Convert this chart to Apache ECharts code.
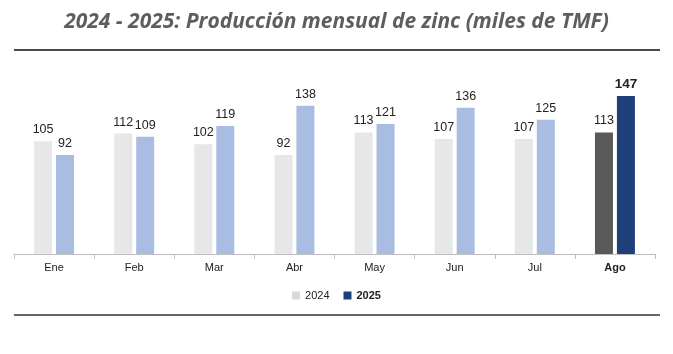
<!DOCTYPE html>
<html lang="es">
<head>
<meta charset="UTF-8">
<title>Producción mensual de zinc</title>
<script src="https://cdn.jsdelivr.net/npm/echarts@6/dist/echarts.min.js"></script>
<style>
  html, body { margin: 0; padding: 0; background: #fff; }
  #chart { width: 673px; height: 354px; }
</style>
</head>
<body>
<div id="chart"></div>
<script>
// datos
var meses = ['Ene', 'Feb', 'Mar', 'Abr', 'May', 'Jun', 'Jul', 'Ago'];
var prod2024 = [105, 112, 102, 92, 113, 107, 107, 113];
var prod2025 = [92, 109, 119, 138, 121, 136, 125, 147];
var ultimo = meses.length - 1; // mes destacado

var fuente = '"Liberation Sans", Arial, sans-serif';

function armar(valores, claro, oscuro, negrita) {
    return valores.map(function (v, i) {
        if (i === ultimo) {
            return { value: v, itemStyle: { color: oscuro }, label: { fontWeight: negrita ? 'bold' : 'normal', fontSize: negrita ? 13.5 : 12.5 } };
        }
        return { value: v, itemStyle: { color: claro } };
    });
}

var chart = echarts.init(document.getElementById('chart'));
chart.setOption({
    animation: false,
    title: {
        text: '2024 - 2025: Producción mensual de zinc (miles de TMF)',
        left: 'center',
        top: 7,
        textStyle: {
            fontFamily: '"Open Sans", sans-serif',
            fontStyle: 'italic',
            fontWeight: 'bold',
            fontSize: 21,
            color: '#5e5e5e'
        }
    },
    graphic: [
        { type: 'line', shape: { x1: 14, y1: 50, x2: 660, y2: 50 }, style: { stroke: '#4a4a4a', lineWidth: 2 } },
        { type: 'line', shape: { x1: 14, y1: 315, x2: 660, y2: 315 }, style: { stroke: '#333', lineWidth: 1.5 } }
    ],
    legend: {
        data: ['2024', '2025'],
        top: 285,
        left: 'center',
        itemWidth: 8,
        itemHeight: 8,
        itemGap: 14,
        icon: 'rect',
        formatter: function (n) { return n === '2025' ? '{b|' + n + '}' : n; },
        textStyle: {
            fontFamily: fuente, fontSize: 11, color: '#222',
            rich: { b: { fontFamily: fuente, fontSize: 11, fontWeight: 'bold', color: '#222' } }
        }
    },
    grid: { left: 14, right: 18, top: 60.5, bottom: 100 },
    xAxis: {
        type: 'category',
        data: meses,
        axisLine: { lineStyle: { color: '#bfbfbf' } },
        axisTick: { show: true, length: 5, lineStyle: { color: '#bfbfbf' } },
        axisLabel: {
            fontFamily: fuente, fontSize: 11, color: '#222', margin: 8,
            formatter: function (v, i) { return i === ultimo ? '{b|' + v + '}' : v; },
            rich: { b: { fontFamily: fuente, fontSize: 11, fontWeight: 'bold', color: '#222' } }
        }
    },
    yAxis: {
        type: 'value', min: 0, max: 180,
        show: false,
        splitLine: { show: false }
    },
    series: [
        {
            name: '2024', type: 'bar',
            barWidth: 18, barGap: '22%',
            itemStyle: { color: '#d9d9d9' },
            data: armar(prod2024, '#e6e7e8', '#58595b', false),
            label: { show: true, position: 'top', distance: 5, fontFamily: fuente, fontSize: 12.5, color: '#222' }
        },
        {
            name: '2025', type: 'bar',
            barWidth: 18,
            itemStyle: { color: '#1f3f7a' },
            data: armar(prod2025, '#a9bde2', '#1f3f7a', true),
            label: { show: true, position: 'top', distance: 5, fontFamily: fuente, fontSize: 12.5, color: '#222' }
        }
    ]
});
</script>
</body>
</html>
